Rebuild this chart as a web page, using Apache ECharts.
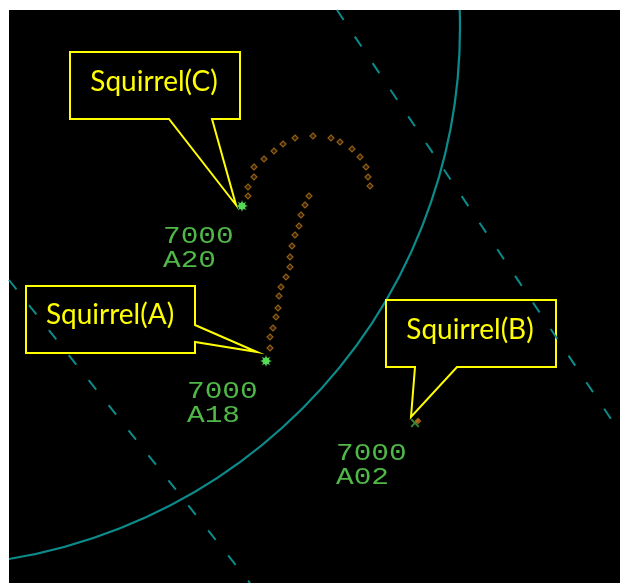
<!DOCTYPE html>
<html>
<head>
    <meta charset="utf-8">
    <title>Radar - Squirrel</title>
    <script type="text/javascript" src="https://cdn.jsdelivr.net/npm/echarts@6/dist/echarts.min.js"></script>
    <style type="text/css">
        html, body { margin: 0; padding: 0; background: #fff; }
        #main { width: 620px; height: 583px; }
    </style>
</head>
<body>
<div id="main"></div>

<script type="text/javascript">
    // screen coordinates (x to the right, y downward)
    var names = ['Squirrel(C)', 'Squirrel(A)', 'Squirrel(B)'];
    var squawks = ['7000', '7000', '7000'];
    var levels = ['A20', 'A18', 'A02'];
    var aircraft = [[242, 206], [266, 361], [415, 423]];

    var trailC = [[248, 196], [248, 187], [254, 177], [254, 167], [264, 159], [274, 151], [283, 144], [295, 138],
        [313, 136], [331, 138], [340, 142], [352, 149], [360, 157], [366, 167], [368, 177], [370, 186]];
    var trailA = [[309, 196], [305, 205], [301, 215], [299, 226], [295, 235], [292, 246], [290, 257], [290, 267],
        [286, 277], [281, 287], [279, 296], [278, 308], [276, 317], [273, 328], [270, 337], [270, 348]];
    var trailB = [[418, 421]];

    // range ring: centre x, centre y, radius
    var rangeRing = [[-78, 28, 538]];
    var dashLine1 = [[337, 10], [617, 428]];
    var dashLine2 = [[9, 280], [250, 583]];

    // callout layout (box outline, 'tip' is replaced by the pointer end)
    var calloutShapes = [
        [[70, 52], [240, 52], [240, 119], [212, 119], 'tip', [169, 119], [70, 119]],
        [[26, 286], [195, 286], [195, 325], 'tip', [195, 342], [195, 353], [26, 353]],
        [[386, 300], [556, 300], [556, 367], [457, 367], 'tip', [415, 367], [386, 367]]
    ];
    var calloutText = [[154, 82], [110, 315], [470, 330]];
    var tipOffset = [[-6, -1], [-9, -9], [-4, -6]];

    var teal = '#0c8b8b';
    var trailColor = '#b0721e';
    var labelColor = '#4fb846';

    var myChart = echarts.init(document.getElementById('main'));

    var starPath = 'path://M20 10 L14.62 11.91 L17.07 17.07 L11.91 14.62 L10 20 L8.09 14.62 L2.93 17.07 L5.38 11.91 L0 10 L5.38 8.09 L2.93 2.93 L8.09 5.38 L10 0 L11.91 5.38 L17.07 2.93 L14.62 8.09 Z';
    var crossPath = 'path://M0 1.5 L1.5 0 L5 3.5 L8.5 0 L10 1.5 L6.5 5 L10 8.5 L8.5 10 L5 6.5 L1.5 10 L0 8.5 L3.5 5 Z';

    var option = {
        animation: false,
        grid: {
            left: 9, top: 10, right: 0, bottom: 0,
            show: true,
            backgroundColor: '#000',
            borderWidth: 0
        },
        xAxis: { type: 'value', min: 9, max: 620, show: false },
        yAxis: { type: 'value', min: 10, max: 583, inverse: true, show: false },
        series: [
            {
                // range ring
                type: 'custom',
                data: rangeRing,
                silent: true,
                renderItem: function (params, api) {
                    var c = api.coord([api.value(0), api.value(1)]);
                    var r = api.size([api.value(2), 0])[0];
                    var cs = params.coordSys;
                    return {
                        type: 'group',
                        clipPath: { type: 'rect', shape: { x: cs.x, y: cs.y, width: cs.width, height: cs.height } },
                        children: [{
                            type: 'circle',
                            shape: { cx: c[0], cy: c[1], r: r },
                            style: { fill: 'none', stroke: teal, lineWidth: 2.2 }
                        }]
                    };
                }
            },
            {
                type: 'line',
                data: dashLine1,
                symbol: 'none',
                lineStyle: { color: teal, width: 2, type: [12, 20] }
            },
            {
                type: 'line',
                data: dashLine2,
                symbol: 'none',
                lineStyle: { color: teal, width: 2, type: [12, 20] }
            },
            {
                type: 'scatter',
                data: trailC.concat(trailA),
                symbol: 'diamond',
                symbolSize: 6,
                itemStyle: { color: '#3a2408', borderColor: trailColor, borderWidth: 1.2 }
            },
            {
                // aircraft C and A
                type: 'scatter',
                data: aircraft.slice(0, 2),
                symbol: 'circle',
                symbolSize: 7,
                itemStyle: { color: '#5ae35a' }
            },
            {
                type: 'scatter',
                data: aircraft.slice(0, 2),
                symbol: starPath,
                symbolSize: 12,
                itemStyle: { color: '#5ae35a' }
            },
            {
                // aircraft B
                type: 'scatter',
                data: aircraft.slice(2),
                symbol: crossPath,
                symbolSize: 9,
                itemStyle: { color: '#3fae3f' }
            },
            {
                type: 'scatter',
                data: trailB,
                symbol: 'diamond',
                symbolSize: 7,
                itemStyle: { color: '#c06a1c' }
            },
            {
                // data blocks
                type: 'custom',
                data: aircraft,
                renderItem: function (params, api) {
                    var p = api.coord([api.value(0), api.value(1)]);
                    var i = params.dataIndex;
                    return {
                        type: 'text',
                        x: p[0] - 79,
                        y: p[1] + 19,
                        scaleX: 1.28,
                        style: {
                            text: squawks[i] + '\n' + levels[i],
                            font: '23px "Liberation Mono"',
                            fill: labelColor,
                            lineHeight: 24,
                            align: 'left',
                            verticalAlign: 'top'
                        }
                    };
                }
            },
            {
                // yellow callouts
                type: 'custom',
                data: aircraft,
                renderItem: function (params, api) {
                    var i = params.dataIndex;
                    var tip = [api.value(0) + tipOffset[i][0], api.value(1) + tipOffset[i][1]];
                    var pts = calloutShapes[i].map(function (v) {
                        return api.coord(v === 'tip' ? tip : v);
                    });
                    var t = api.coord(calloutText[i]);
                    return {
                        type: 'group',
                        children: [{
                            type: 'polygon',
                            shape: { points: pts },
                            style: { fill: 'none', stroke: '#ffff00', lineWidth: 2 }
                        }, {
                            type: 'text',
                            x: t[0],
                            y: t[1],
                            style: {
                                text: names[i],
                                font: '28px Lato',
                                fill: '#ffff00',
                                align: 'center',
                                verticalAlign: 'middle'
                            }
                        }]
                    };
                }
            }
        ]
    };

    myChart.setOption(option);
</script>
</body>
</html>
